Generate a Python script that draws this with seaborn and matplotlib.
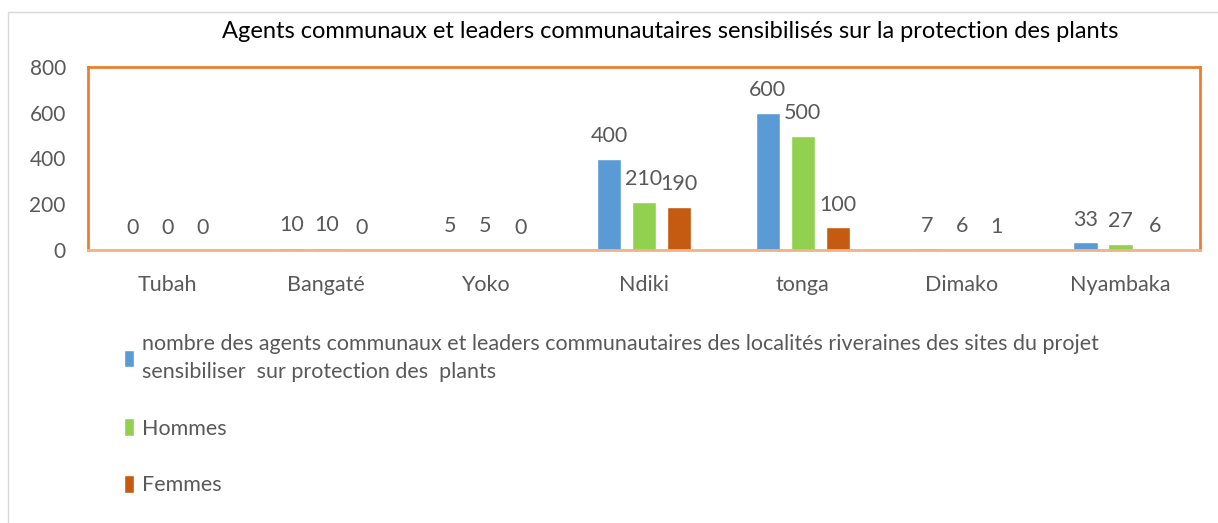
import matplotlib
matplotlib.use("Agg")
import matplotlib.pyplot as plt
import matplotlib.patches as mpatches
import seaborn as sns
import pandas as pd

categories = ["Tubah", "Bangaté", "Yoko", "Ndiki", "tonga", "Dimako", "Nyambaka"]
total = [0, 10, 5, 400, 600, 7, 33]
hommes = [0, 10, 5, 210, 500, 6, 27]
femmes = [0, 0, 0, 190, 100, 1, 6]
series_names = [
    "nombre des agents communaux et leaders communautaires des localités riveraines des sites du projet\nsensibiliser  sur protection des  plants",
    "Hommes",
    "Femmes",
]
title = "Agents communaux et leaders communautaires sensibilisés sur la protection des plants"
yticks = [0, 200, 400, 600, 800]

rows = []
for name, vals in zip(series_names, [total, hommes, femmes]):
    for c, v in zip(categories, vals):
        rows.append({"cat": c, "val": v, "serie": name})
df = pd.DataFrame(rows)

sns.set_theme(style="white")
plt.rcParams["font.family"] = ["Lato", "DejaVu Sans"]

fig = plt.figure(figsize=(12.18, 5.23), dpi=100)
ax = fig.add_axes([88 / 1218, 1 - 250 / 523, (1200 - 88) / 1218, (250 - 67) / 523])

palette = ["#5B9BD5", "#92D050", "#C55A11"]
sns.barplot(data=df, x="cat", y="val", hue="serie", palette=palette,
            width=0.66, gap=0.3, ax=ax, errorbar=None, saturation=1)

for cont in ax.containers:
    ax.bar_label(cont, padding=9, fontsize=15.5, color="#595959")

ax.set_ylim(0, 800)
ax.set_yticks(yticks)
ax.set_xlabel("")
ax.set_ylabel("")
ax.tick_params(axis="y", labelsize=15, colors="#595959", length=0, pad=16)
ax.tick_params(axis="x", labelsize=15.5, colors="#595959", length=0, pad=18)
for s in ["top", "left", "right"]:
    ax.spines[s].set_color("#ED7D31")
    ax.spines[s].set_linewidth(2)
ax.spines["bottom"].set_color("#F4B183")
ax.spines["bottom"].set_linewidth(2)

fig.text(670 / 1218, 1 - 32 / 523, title, ha="center", va="center", fontsize=17, color="black")

sns.move_legend(ax, loc="upper left", bbox_to_anchor=(105 / 1218, 1 - 315 / 523),
                bbox_transform=fig.transFigure, frameon=False, title=None,
                fontsize=15.5, labelspacing=1.7, handlelength=0.45, handleheight=0.9,
                handletextpad=0.35, labelcolor="#595959")
leg = ax.get_legend()
leg.get_texts()[0].set_linespacing(1.45)

fig.add_artist(mpatches.Rectangle((8 / 1218, -0.1), 1.2, 1.1 - 12 / 523,
                                  transform=fig.transFigure, fill=False,
                                  edgecolor="#D9D9D9", linewidth=1))

fig.savefig("out.png", dpi=100)
